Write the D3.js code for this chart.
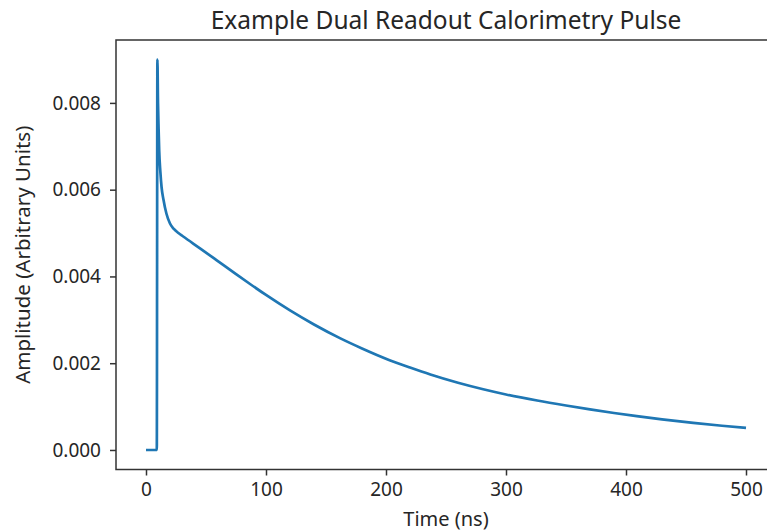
<!DOCTYPE html>
<html>
<head>
<meta charset="utf-8">
<script src="https://cdn.jsdelivr.net/npm/d3@7/dist/d3.min.js"></script>
<style>
  html, body { margin: 0; padding: 0; background: #fff; }
  svg { display: block; }
  text { font-family: "Noto Sans", "Open Sans", sans-serif; fill: #262626; }
</style>
</head>
<body>
<svg id="chart" width="767" height="532"></svg>
<script>
// Data
const timeNs = [0, 9, 9.5, 10, 10.5, 11, 12, 13, 14.5, 17, 20, 23, 27, 31, 45, 59, 73, 87, 100, 120, 140, 162, 180, 203, 220, 237, 260, 281, 300, 326, 350, 370, 390, 409, 430, 456, 480, 500];
const amplitude = [0, 0, 0.0090, 0.0080, 0.0074, 0.0069, 0.0064, 0.00605, 0.00578, 0.00545, 0.00522, 0.00510, 0.00500, 0.00492, 0.004647, 0.004371, 0.004094, 0.00382, 0.003573, 0.003217, 0.002893, 0.002572, 0.00234, 0.00207, 0.00190, 0.00174, 0.00155, 0.00140, 0.00128, 0.00114, 0.001025, 0.000935, 0.000853, 0.00078, 0.000706, 0.000624, 0.000559, 0.000509];
const xTicks = [0, 100, 200, 300, 400, 500];
const yTicks = [0.000, 0.002, 0.004, 0.006, 0.008];
const titleText = "Example Dual Readout Calorimetry Pulse";
const xLabel = "Time (ns)";
const yLabel = "Amplitude (Arbitrary Units)";

(function () {
  const svg = d3.select("#chart");
  const mLeft = 116, mRight = 776, mTop = 40, mBottom = 469.5;

  const x = d3.scaleLinear().domain([-25, 525]).range([mLeft, mRight]);
  const y = d3.scaleLinear().domain([-0.00045, 0.00945]).range([mBottom, mTop]);

  const points = timeNs.map((t, i) => [t, amplitude[i]]);

  svg.append("path")
    .datum(points)
    .attr("fill", "none")
    .attr("stroke", "#1f77b4")
    .attr("stroke-width", 2.7)
    .attr("stroke-linejoin", "round")
    .attr("d", d3.line().x(d => x(d[0])).y(d => y(d[1])).curve(d3.curveMonotoneX));

  const xAxis = svg.append("g")
    .attr("transform", `translate(0,${mBottom})`)
    .call(d3.axisBottom(x).tickValues(xTicks).tickSize(6).tickPadding(7).tickFormat(d3.format("d")));
  const yAxis = svg.append("g")
    .attr("transform", `translate(${mLeft},0)`)
    .call(d3.axisLeft(y).tickValues(yTicks).tickSize(6).tickPadding(9).tickFormat(d3.format(".3f")));

  [xAxis, yAxis].forEach(g => {
    g.select(".domain").remove();
    g.selectAll(".tick line").attr("stroke", "#333").attr("stroke-width", 1.5);
    g.selectAll(".tick text").style("font-size", "19px").attr("fill", "#262626")
      .style("font-family", "'Noto Sans', 'Open Sans', sans-serif");
  });

  svg.append("rect")
    .attr("x", mLeft).attr("y", mTop)
    .attr("width", mRight - mLeft).attr("height", mBottom - mTop)
    .attr("fill", "none").attr("stroke", "#333").attr("stroke-width", 1.5);

  svg.append("text")
    .attr("x", (mLeft + mRight) / 2).attr("y", 29)
    .attr("text-anchor", "middle")
    .style("font-size", "24.5px")
    .text(titleText);

  svg.append("text")
    .attr("x", (mLeft + mRight) / 2).attr("y", 526)
    .attr("text-anchor", "middle")
    .style("font-size", "20px")
    .text(xLabel);

  svg.append("text")
    .attr("transform", `translate(30,${(mTop + mBottom) / 2}) rotate(-90)`)
    .attr("text-anchor", "middle")
    .style("font-size", "20.5px")
    .text(yLabel);
})();
</script>
</body>
</html>
